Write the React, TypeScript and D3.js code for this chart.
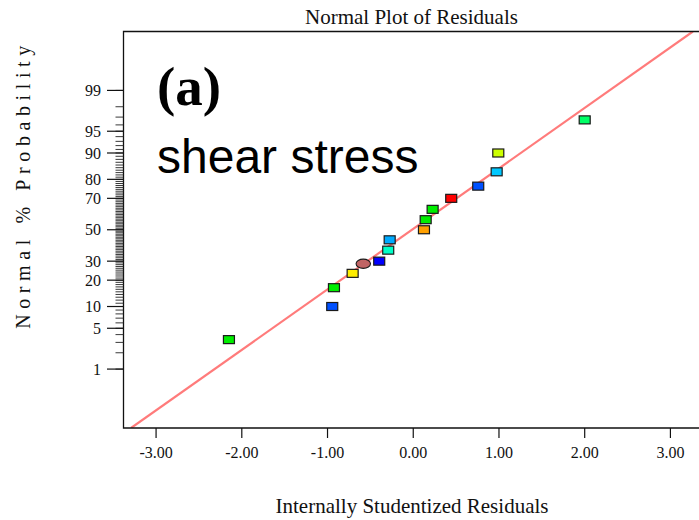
import React from "react";
import * as d3 from "d3";

// Internally studentized residuals, sorted, with their normal % probability
const residuals = [-2.15, -0.945, -0.925, -0.707, -0.397, -0.292, -0.275, 0.125, 0.145, 0.226, 0.443, 0.758, 0.973, 0.992, 2.0];
const probabilities = [3.33, 10, 16.67, 23.33, 30, 36.67, 43.33, 50, 56.67, 63.33, 70, 76.67, 83.33, 90, 96.67];
const pointColors = ["#00ee00", "#0050ff", "#00ee00", "#ffee00", "#0000ff", "#00ffc8", "#00aaff", "#ffa000", "#00ee00", "#00ee00", "#ff0000", "#0050ff", "#00c8ff", "#ccff00", "#00ff66"];

// Highlighted run drawn as an ellipse
const highlightResidual = -0.583;
const highlightProbability = 28.5;

// Reference line: residual = fitMean + fitSd * z
const fitMean = -0.015;
const fitSd = 0.99;

const xTicks = [-3, -2, -1, 0, 1, 2, 3];
const yMajorTicks = [1, 5, 10, 20, 30, 50, 70, 80, 90, 95, 99];
const yMinorTicks = d3.range(1, 100);

// Inverse standard normal CDF (Acklam's rational approximation)
function probit(p: number): number {
  const a = [-3.969683028665376e1, 2.209460984245205e2, -2.759285104469687e2, 1.38357751867269e2, -3.066479806614716e1, 2.506628277459239];
  const b = [-5.447609879822406e1, 1.615858368580409e2, -1.556989798598866e2, 6.680131188771972e1, -1.328068155288572e1];
  const c = [-7.784894002430293e-3, -3.223964580411365e-1, -2.400758277161838, -2.549732539343734, 4.374664141464968, 2.938163982698783];
  const d = [7.784695709041462e-3, 3.224671290700398e-1, 2.445134137142996, 3.754408661907416];
  const pl = 0.02425;
  if (p < pl) {
    const q = Math.sqrt(-2 * Math.log(p));
    return (((((c[0] * q + c[1]) * q + c[2]) * q + c[3]) * q + c[4]) * q + c[5]) / ((((d[0] * q + d[1]) * q + d[2]) * q + d[3]) * q + 1);
  }
  if (p > 1 - pl) {
    const q = Math.sqrt(-2 * Math.log(1 - p));
    return -(((((c[0] * q + c[1]) * q + c[2]) * q + c[3]) * q + c[4]) * q + c[5]) / ((((d[0] * q + d[1]) * q + d[2]) * q + d[3]) * q + 1);
  }
  const q = p - 0.5;
  const r = q * q;
  return ((((((a[0] * r + a[1]) * r + a[2]) * r + a[3]) * r + a[4]) * r + a[5]) * q) / (((((b[0] * r + b[1]) * r + b[2]) * r + b[3]) * r + b[4]) * r + 1);
}

const W = 699;
const H = 520;
const left = 123.5;
const top = 31.5;
const bottom = 428;
const right = 703;

const serif = "'Liberation Serif', 'Times New Roman', serif";
const sans = "'Liberation Sans', Arial, sans-serif";

export default function App() {
  const x = d3.scaleLinear().domain([-3.38, 3.38]).range([left, right]);
  const yz = d3.scaleLinear().domain([-3.31, 3.31]).range([bottom, top]);
  const y = (pct: number) => yz(probit(pct / 100));

  const zEnds = yz.domain();
  const fitLine = d3.line<number>()
    .x((z) => x(fitMean + fitSd * z))
    .y((z) => yz(z))(zEnds);

  const markW = 11;
  const markH = 8;

  return (
    <svg width={W} height={H} style={{ position: "absolute", left: 0, top: 0, background: "#fff" }}>
      <defs>
        <clipPath id="plotArea">
          <rect x={left} y={top} width={right - left} height={bottom - top} />
        </clipPath>
      </defs>

      <text x={411.5} y={24} textAnchor="middle" fontFamily={serif} fontSize={21} fill="#111">
        Normal Plot of Residuals
      </text>

      <g clipPath="url(#plotArea)">
        <path d={fitLine ?? ""} fill="none" stroke="#ff7b7b" strokeWidth={2.2} />
        {residuals.map((r, i) => (
          <rect
            key={i}
            x={x(r) - markW / 2}
            y={y(probabilities[i]) - markH / 2}
            width={markW}
            height={markH}
            fill={pointColors[i]}
            stroke="#1a1a1a"
            strokeWidth={1.2}
          />
        ))}
        <ellipse
          cx={x(highlightResidual)}
          cy={y(highlightProbability)}
          rx={7.2}
          ry={4.6}
          fill="#c06464"
          stroke="#1a1a1a"
          strokeWidth={1.1}
        />
      </g>

      {/* frame */}
      <path
        d={`M${right},${top}H${left}V${bottom}H${right}`}
        fill="none"
        stroke="#111"
        strokeWidth={1.3}
      />

      {/* y axis ticks */}
      {yMinorTicks.map((p) => (
        <line key={`m${p}`} x1={115.5} x2={left} y1={y(p)} y2={y(p)} stroke="#222" strokeWidth={0.9} />
      ))}
      {yMajorTicks.map((p) => (
        <g key={`M${p}`}>
          <line x1={107} x2={left} y1={y(p)} y2={y(p)} stroke="#111" strokeWidth={1.2} />
          <text x={101} y={y(p)} dy="0.35em" textAnchor="end" fontFamily={serif} fontSize={16} fill="#111">
            {p}
          </text>
        </g>
      ))}

      {/* x axis ticks */}
      {xTicks.map((t) => (
        <g key={t}>
          <line x1={x(t)} x2={x(t)} y1={bottom} y2={bottom + 10} stroke="#111" strokeWidth={1.2} />
          <text x={x(t)} y={bottom + 30} textAnchor="middle" fontFamily={serif} fontSize={16} fill="#111">
            {t.toFixed(2)}
          </text>
        </g>
      ))}

      <text x={412} y={513} textAnchor="middle" fontFamily={serif} fontSize={21} fill="#111">
        Internally Studentized Residuals
      </text>

      <text
        transform={`translate(30,${184.5}) rotate(-90)`}
        textAnchor="middle"
        fontFamily={serif}
        fontSize={20}
        letterSpacing={5.6}
        fill="#111"
      >
        Normal % Probability
      </text>

      <text x={157} y={105} fontFamily={serif} fontWeight="bold" fontSize={55} fill="#000">
        (a)
      </text>
      <text x={157} y={172.7} fontFamily={sans} fontSize={48} fill="#000">
        shear stress
      </text>
    </svg>
  );
}
